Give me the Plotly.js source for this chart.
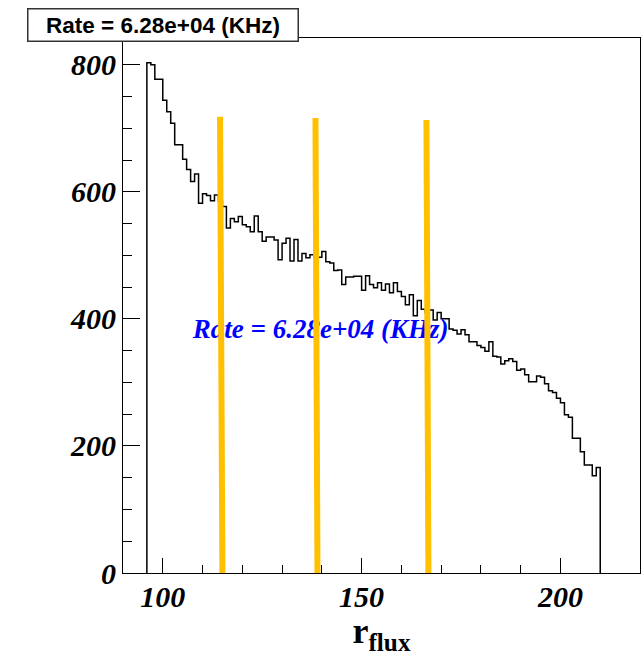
<!DOCTYPE html>
<html>
<head>
<meta charset="utf-8">
<script src="https://cdn.plot.ly/plotly-3.0.1.min.js"></script>
<style>html,body{margin:0;padding:0;background:#fff;}#chart{width:641px;height:656px;}</style>
</head>
<body>
<div id="chart"></div>
<script>
// Histogram: r_flux, bins of width 1 starting at 96
const binLow = 96;
const binWidth = 1;
const counts = [
  803, 800, 777, 777, 744, 726, 708, 674, 674, 651,
  635, 616, 628, 582, 597, 594, 586, 595, 585, 577,
  543, 558, 553, 561, 548, 545, 537, 562, 537, 522,
  529, 529, 524, 493, 519, 527, 491, 525, 491, 503,
  496, 501, 497, 497, 506, 490, 488, 476, 477, 454,
  466, 466, 467, 467, 445, 468, 454, 449, 457, 445,
  455, 441, 457, 443, 435, 422, 438, 405, 429, 415,
  410, 414, 398, 410, 400, 400, 384, 382, 376, 383,
  375, 364, 364, 358, 355, 349, 364, 341, 340, 329,
  334, 337, 333, 319, 321, 312, 301, 301, 310, 308,
  298, 287, 284, 275, 268, 249, 245, 212, 212, 191,
  170, 170, 153, 166
];

// Orange marker lines (hand-drawn, slightly tilted)
const markTopX = [114.4, 138.4, 166.3];
const markBotX = [115.0, 138.9, 166.8];
const markTopY = [718, 716, 713];
const markBotY = [0, -1, -4];

const statsText = 'Rate = 6.28e+04 (KHz)';
const midText = 'Rate = 6.28e+04 (KHz)';
const midPos = {x: 139.7, y: 381};

const xTickVals = [100, 150, 200];
const yTickVals = [0, 200, 400, 600, 800];

// Build step outline
const hx = [binLow];
const hy = [0];
for (let i = 0; i < counts.length; i++) {
  hx.push(binLow + i * binWidth);
  hy.push(counts[i]);
}
hx.push(binLow + counts.length * binWidth);
hy.push(0);

const mx = [], my = [];
for (let k = 0; k < markTopX.length; k++) {
  mx.push(markTopX[k], markBotX[k], null);
  my.push(markTopY[k], markBotY[k], null);
}

const traces = [
  {x: hx, y: hy, type: 'scatter', mode: 'lines', line: {shape: 'hv', color: '#000', width: 1.5}, hoverinfo: 'skip'},
  {x: [midPos.x], y: [midPos.y], type: 'scatter', mode: 'text', text: [midText],
   textfont: {family: 'Liberation Serif', size: 27, color: '#0000ff', weight: 'bold', style: 'italic'}, hoverinfo: 'skip'},
  {x: mx, y: my, type: 'scatter', mode: 'lines', line: {color: '#FFC000', width: 6}, cliponaxis: false, connectgaps: false, hoverinfo: 'skip'}
];

const tickFont = {family: 'Liberation Serif', size: 30, weight: 'bold', style: 'italic', color: '#000'};

const layout = {
  width: 641, height: 656,
  margin: {l: 123, r: 1, t: 38, b: 83, pad: 0},
  paper_bgcolor: '#fff', plot_bgcolor: '#fff',
  showlegend: false,
  xaxis: {
    range: [90, 220], showline: true, mirror: true, linecolor: '#000', linewidth: 1,
    ticks: 'inside', ticklen: 15, tickcolor: '#000', tickwidth: 1,
    tickmode: 'array', tickvals: xTickVals, ticktext: xTickVals.map(String),
    minor: {dtick: 10, tick0: 0, ticklen: 8, ticks: 'inside', tickcolor: '#000', tickwidth: 1, showgrid: false},
    showgrid: false, zeroline: false, tickfont: tickFont, ticklabelstandoff: -3,
    title: {text: '<b>r<sub>flux</sub></b>', font: {family: 'Liberation Serif', size: 36, color: '#000'}, standoff: 9},
    automargin: false
  },
  yaxis: {
    range: [0, 842], showline: true, mirror: true, linecolor: '#000', linewidth: 1,
    ticks: 'inside', ticklen: 17, tickcolor: '#000', tickwidth: 1,
    tickmode: 'array', tickvals: yTickVals, ticktext: yTickVals.map(String),
    minor: {dtick: 50, tick0: 0, ticklen: 9, ticks: 'inside', tickcolor: '#000', tickwidth: 1, showgrid: false},
    showgrid: false, zeroline: false, tickfont: tickFont,
    automargin: false
  },
  annotations: [{
    xref: 'paper', yref: 'paper', x: -0.1863, y: 1.0555, xanchor: 'left', yanchor: 'top',
    text: statsText, showarrow: false,
    font: {family: 'Liberation Sans', size: 22.5, color: '#000', weight: 'bold'},
    bgcolor: '#fff', bordercolor: '#333', borderwidth: 1.5, borderpad: 1.5,
    width: 266, height: 28, align: 'center'
  }]
};

Plotly.newPlot('chart', traces, layout, {staticPlot: true, displayModeBar: false});
</script>
</body>
</html>
